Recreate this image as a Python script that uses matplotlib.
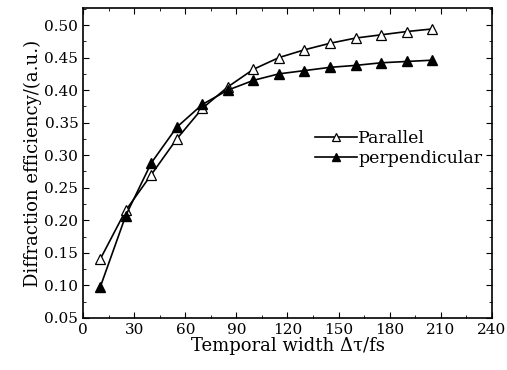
import numpy as np
import matplotlib
matplotlib.use("Agg")
import matplotlib.pyplot as plt
from matplotlib.ticker import MultipleLocator

width = [10, 25, 40, 55, 70, 85, 100, 115, 130, 145, 160, 175, 190, 205]
parallel = [0.140, 0.215, 0.270, 0.325, 0.372, 0.405, 0.432, 0.450, 0.462, 0.472, 0.480, 0.485, 0.490, 0.494]
perpendicular = [0.097, 0.207, 0.288, 0.343, 0.378, 0.400, 0.415, 0.425, 0.430, 0.435, 0.438, 0.442, 0.444, 0.446]

plt.rcParams['font.family'] = ['DejaVu Serif']
plt.rcParams['mathtext.fontset'] = 'dejavuserif'

fig = plt.figure(figsize=(5.07, 3.7), dpi=100)
ax = fig.add_axes([0.164, 0.141, 0.806, 0.837])

ax.plot(width, parallel, color='black', lw=1.2, marker='^', ms=7,
        mfc='white', mec='black', mew=0.9, label='Parallel')
ax.plot(width, perpendicular, color='black', lw=1.2, marker='^', ms=7,
        mfc='black', mec='black', label='perpendicular')

ax.set_xlim(0, 240)
ax.set_ylim(0.05, 0.526)
ax.xaxis.set_major_locator(MultipleLocator(30))
ax.xaxis.set_minor_locator(MultipleLocator(15))
ax.yaxis.set_major_locator(MultipleLocator(0.05))
ax.yaxis.set_minor_locator(MultipleLocator(0.025))
ax.yaxis.set_major_formatter(plt.FuncFormatter(lambda v, p: f"{v:.2f}"))
ax.tick_params(which='both', direction='in', top=True, right=True, labelsize=11)
ax.tick_params(which='major', length=4)
ax.tick_params(which='minor', length=2)
for s in ax.spines.values():
    s.set_linewidth(1.2)

ax.set_xlabel('Temporal width Δτ/fs', fontsize=13, labelpad=0)
ax.set_ylabel('Diffraction efficiency/(a.u.)', fontsize=13, labelpad=2)

ax.legend(loc='upper left', bbox_to_anchor=(0.55, 0.63), frameon=False,
          fontsize=12.5, handlelength=2.4, handletextpad=0.1, borderaxespad=0,
          labelspacing=0.2, markerscale=0.85)

fig.savefig('out.png', dpi=100)
